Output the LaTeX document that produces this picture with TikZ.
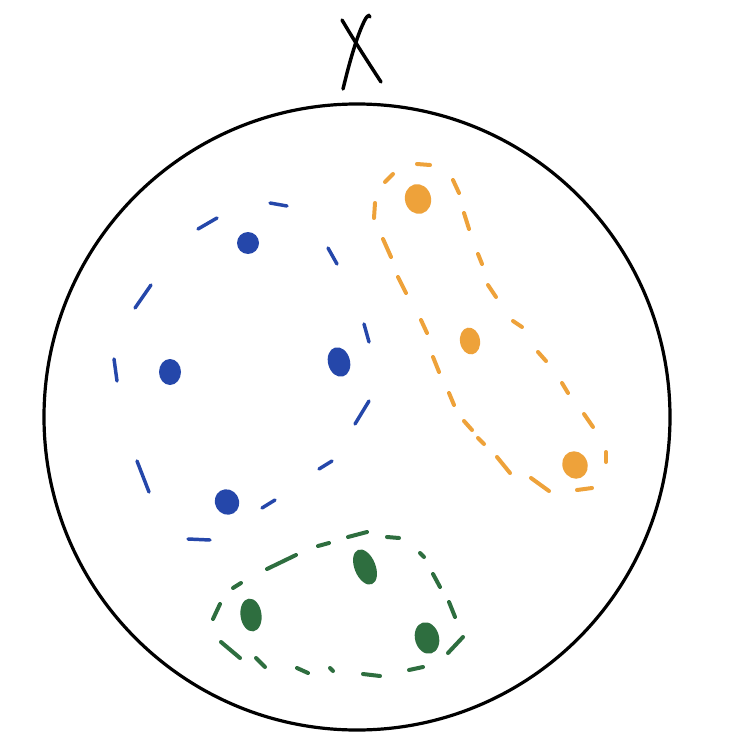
\documentclass[tikz,border=0pt]{standalone}
\definecolor{cblue}{HTML}{2547AA}
\definecolor{corange}{HTML}{EEA23A}
\definecolor{cgreen}{HTML}{2E6E3F}
\begin{document}
\begin{tikzpicture}[x=0.75pt,y=-0.75pt,
  dashstroke/.style={line width=3pt,line cap=round},
  blob/.style={line width=1pt}]
\fill[white] (0,0) rectangle (742,752);
\useasboundingbox (0,0) rectangle (742,752);
% outer set
\node[circle,draw=black,line width=2.4pt,minimum size=469.5pt,inner sep=0pt] (X) at (357,417) {};
% label X
\draw[line width=2.6pt,line cap=round] (342,20) .. controls (355,42) and (368,62) .. (381,82);
\draw[line width=2.6pt,line cap=round] (343,89) .. controls (350,60) and (358,32) .. (366,18) .. controls (368,15) and (370,15) .. (370,17);
% blue dashes
\foreach \a/\b/\c/\d in {270/203/287/206, 198/229/217/218, 328/248/337/264, 135/308/151/285,
  364/324/369/342, 114/359/117/381, 369/401/355/424, 137/461/149/492, 332/461/319/469,
  262/508/275/500, 188/539/210/540}
  \draw[dashstroke,cblue,line width=2.6pt] (\a,\b) -- (\c,\d);
% orange dashes
\foreach \a/\b/\c/\d in {417/164/430/165, 385/182/393/174, 453/180/459/193, 375/203/374/218,
  464/213/469/229, 383/239/391/257, 478/254/482/264, 398/277/406/293, 488/285/496/297,
  421/320/427/333, 513/321/522/327, 538/352/546/361, 433/357/439/372, 562/383/568/393,
  449/393/454/405, 584/414/593/427, 464/421/472/430, 478/438/484/444, 606/452/606/462,
  497/457/510/473, 531/478/549/491, 577/490/592/488}
  \draw[dashstroke,corange] (\a,\b) -- (\c,\d);
% green dashes
\foreach \a/\b/\c/\d in {348/537/367/532, 387/537/399/538, 318/546/329/543, 267/569/296/555,
  420/553/424/557, 233/588/241/583, 433/574/440/587, 220/604/213/619, 449/602/455/617,
  221/642/240/658, 463/637/448/653, 256/658/265/667, 297/668/308/673, 330/668/333/671,
  363/674/380/676, 409/670/423/667}
  \draw[dashstroke,cgreen] (\a,\b) -- (\c,\d);
% blue points
\fill[cblue] (248,243) ellipse [x radius=11, y radius=11];
\fill[cblue] (170,372) ellipse [x radius=11, y radius=13];
\fill[cblue,rotate around={15:(339,362)}] (339,362) ellipse [x radius=11, y radius=15];
\fill[cblue,rotate around={30:(227,502)}] (227,502) ellipse [x radius=12, y radius=13];
% orange points
\fill[corange,rotate around={15:(418,199)}] (418,199) ellipse [x radius=13, y radius=15];
\fill[corange,rotate around={10:(470,341)}] (470,341) ellipse [x radius=10, y radius=13.5];
\fill[corange,rotate around={25:(575,465)}] (575,465) ellipse [x radius=12.5, y radius=14];
% green points
\fill[cgreen,rotate around={22:(365,567)}] (365,567) ellipse [x radius=10.5, y radius=18.5];
\fill[cgreen,rotate around={8:(251,615)}] (251,615) ellipse [x radius=10.5, y radius=16.5];
\fill[cgreen,rotate around={15:(427,638)}] (427,638) ellipse [x radius=12, y radius=16];
\end{tikzpicture}
\end{document}
